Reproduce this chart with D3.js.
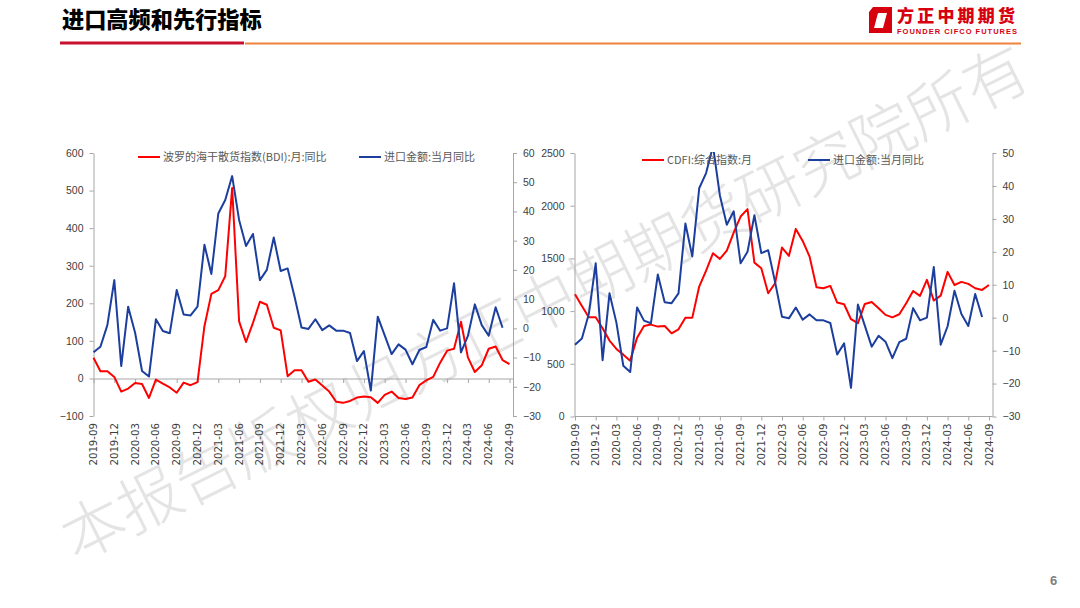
<!DOCTYPE html>
<html><head><meta charset="utf-8">
<script src="https://cdn.jsdelivr.net/npm/d3@7"></script>
<style>body{margin:0;background:#fff}svg{display:block}</style>
</head><body>
<svg id="c" width="1080" height="608"></svg>
<script>
const months = ["2019-09","2019-10","2019-11","2019-12","2020-01","2020-02","2020-03","2020-04","2020-05","2020-06","2020-07","2020-08","2020-09","2020-10","2020-11","2020-12","2021-01","2021-02","2021-03","2021-04","2021-05","2021-06","2021-07","2021-08","2021-09","2021-10","2021-11","2021-12","2022-01","2022-02","2022-03","2022-04","2022-05","2022-06","2022-07","2022-08","2022-09","2022-10","2022-11","2022-12","2023-01","2023-02","2023-03","2023-04","2023-05","2023-06","2023-07","2023-08","2023-09","2023-10","2023-11","2023-12","2024-01","2024-02","2024-03","2024-04","2024-05","2024-06","2024-07","2024-08","2024-09"];
const xTickLabels = ["2019-09","2019-12","2020-03","2020-06","2020-09","2020-12","2021-03","2021-06","2021-09","2021-12","2022-03","2022-06","2022-09","2022-12","2023-03","2023-06","2023-09","2023-12","2024-03","2024-06","2024-09"];
// 波罗的海干散货指数(BDI):月:同比 (%)
const bdiYoY = [55,19,19,4,-35,-27,-12,-15,-52,-3,-14,-24,-38,-11,-18,-10,139,225,235,272,507,152,97,148,204,196,135,128,6,22,22,-9,-3,-19,-35,-62,-65,-60,-51,-48,-50,-65,-44,-35,-52,-55,-51,-18,-5,4,42,74,79,151,56,17,35,79,85,49,38];
// CDFI:综合指数:月
const cdfi = [1160,1049,941,941,837,720,641,587,530,748,859,872,853,859,789,827,938,938,1233,1384,1549,1495,1574,1745,1897,1967,1460,1407,1169,1264,1603,1524,1780,1666,1517,1226,1217,1239,1081,1065,923,885,1068,1087,1027,964,941,970,1074,1191,1144,1296,1100,1147,1372,1248,1277,1258,1217,1201,1248];
// 进口金额:当月同比 (%), ends 2024-08
const importYoY = [-8.2,-6.3,1.1,16.5,-12.9,7.4,-1.5,-14.6,-16.5,3.1,-0.9,-1.7,13.1,4.7,4.4,7.4,28.6,18.6,39.3,43.9,52.1,37.1,28.2,32.3,16.5,20.0,31.1,19.6,20.5,10.8,0.3,-0.2,3.1,-0.6,1.0,-0.8,-0.8,-1.6,-11.2,-7.8,-21.3,4.0,-2.4,-8.8,-5.5,-7.3,-12.3,-7.4,-6.4,2.9,-0.8,0.0,15.4,-8.2,-2.6,8.2,1.1,-2.5,7.2,0.2,null];
const leftTicksA = [600,500,400,300,200,100,0,-100];
const rightTicksA = [60,50,40,30,20,10,0,-10,-20,-30];
const leftTicksB = [2500,2000,1500,1000,500,0];
const rightTicksB = [50,40,30,20,10,0,-10,-20,-30];
const legendA = ["波罗的海干散货指数(BDI):月:同比","进口金额:当月同比"];
const legendB = ["CDFI:综合指数:月","进口金额:当月同比"];

const svg = d3.select("#c");
const RED = "#ff0000", BLUE = "#1c3f9e", AXIS = "#a6a6a6", TXT = "#404040";
const CJK = "'Noto Sans CJK SC','Noto Sans',sans-serif";

// watermark
svg.append("text").attr("transform","translate(547,308) rotate(-26.5)")
  .attr("text-anchor","middle").attr("dominant-baseline","middle")
  .style("font-family",CJK).style("font-weight",300).style("font-size","63px")
  .style("fill","#e4e4e4").text("本报告版权归方正中期期货研究院所有");

// header
svg.append("text").attr("x",62).attr("y",28).style("font-family",CJK).style("font-weight",900)
  .style("font-size","22.2px").style("fill","#000").text("进口高频和先行指标");
svg.append("rect").attr("x",60).attr("y",41.5).attr("width",184).attr("height",3).attr("fill","#c8102e");
svg.append("rect").attr("x",245).attr("y",42.5).attr("width",776).attr("height",2).attr("fill","#f0823c");
// logo
const logo = svg.append("g").attr("transform","translate(869,7)");
logo.append("path").attr("d","M4,0 H23 V26 H0 V5 Z").attr("fill","#d7000f");
logo.append("path").attr("d","M9,6 H18 L14,21 H5 Z").attr("fill","#fff");
svg.append("text").attr("x",897).attr("y",22).attr("textLength",118).style("font-family",CJK).style("font-weight",900)
  .style("font-size","17px").style("fill","#d7000f").text("方正中期期货");
svg.append("text").attr("x",897).attr("y",34).style("font-family","'Liberation Sans Narrow','Liberation Sans',sans-serif").style("font-weight",700)
  .style("font-size","7.5px").style("fill","#d7000f").attr("textLength",120).text("FOUNDER CIFCO FUTURES");
// page number
svg.append("text").attr("x",1050).attr("y",585).style("font-family","'Liberation Sans Narrow',sans-serif").style("font-weight",700)
  .style("font-size","13px").style("fill","#7f7f7f").text("6");

function drawChart(cfg){
  const g = svg.append("g");
  const x = d3.scalePoint().domain(months).range([cfg.x0, cfg.x1]);
  const yL = d3.scaleLinear().domain(cfg.lDomain).range([cfg.yBottom, cfg.yTop]);
  const yR = d3.scaleLinear().domain(cfg.rDomain).range([cfg.yBottom, cfg.yTop]);
  const clipId = "clip"+cfg.id;
  g.append("clipPath").attr("id",clipId).append("rect")
    .attr("x",cfg.axL-2).attr("y",cfg.yTop-1).attr("width",cfg.axR-cfg.axL+4).attr("height",cfg.yBottom-cfg.yTop+2);

  const la = g.append("g").attr("transform",`translate(${cfg.axL},0)`)
    .call(d3.axisLeft(yL).tickValues(cfg.lTicks).tickFormat(d3.format("d")).tickSize(4).tickSizeOuter(0).tickPadding(6));
  const ra = g.append("g").attr("transform",`translate(${cfg.axR},0)`)
    .call(d3.axisRight(yR).tickValues(cfg.rTicks).tickFormat(d3.format("d")).tickSize(4).tickSizeOuter(0).tickPadding(6));
  [la,ra].forEach(a=>{
    a.select(".domain").attr("stroke",AXIS);
    a.selectAll(".tick line").attr("stroke",AXIS);
    a.selectAll("text").style("font-family","'Liberation Sans',Arial,sans-serif").style("font-size","10.5px").style("fill",TXT);
  });
  const xa = g.append("g").attr("transform",`translate(0,${cfg.xAxisY})`)
    .call(d3.axisBottom(x).tickValues(xTickLabels).tickSize(4).tickSizeOuter(0).tickFormat(""));
  xa.select(".domain").attr("d",`M${cfg.axL},0H${cfg.axR}`).attr("stroke",AXIS);
  xa.selectAll(".tick line").attr("stroke",AXIS);
  g.append("g").selectAll("text").data(xTickLabels).join("text")
    .attr("transform",d=>`translate(${x(d)},${cfg.yBottom+7}) rotate(-90)`)
    .attr("text-anchor","end").attr("dy","0.35em")
    .style("font-family","'DejaVu Sans',sans-serif").style("font-size","10.2px").style("fill",TXT)
    .text(d=>d);

  const lineL = d3.line().x((d,i)=>x(months[i])).y(d=>yL(d)).defined(d=>d!=null);
  const lineR = d3.line().x((d,i)=>x(months[i])).y(d=>yR(d)).defined(d=>d!=null);
  const lg = g.append("g").attr("clip-path",`url(#${clipId})`);
  lg.append("path").datum(cfg.leftSeries).attr("d",lineL).attr("fill","none").attr("stroke",RED).attr("stroke-width",2).attr("stroke-linejoin","round");
  lg.append("path").datum(cfg.rightSeries).attr("d",lineR).attr("fill","none").attr("stroke",BLUE).attr("stroke-width",2).attr("stroke-linejoin","round");

  const items = [
    {name:cfg.legend[0], color:RED, x:cfg.leg[0]},
    {name:cfg.legend[1], color:BLUE, x:cfg.leg[1]}
  ];
  items.forEach(it=>{
    g.append("line").attr("x1",it.x).attr("x2",it.x+22).attr("y1",cfg.legY).attr("y2",cfg.legY)
      .attr("stroke",it.color).attr("stroke-width",2);
    g.append("text").attr("x",it.x+25).attr("y",cfg.legY).attr("dy","0.35em")
      .style("font-family",CJK).style("font-size","11px").style("fill","#595959").text(it.name);
  });
}

drawChart({id:"A", x0:93.5, x1:509.5, axL:93.5, axR:513, yTop:153, yBottom:416,
  lDomain:[-100,600], rDomain:[-30,60], lTicks:leftTicksA, rTicks:rightTicksA,
  leftSeries:bdiYoY, rightSeries:importYoY, xAxisY:379, legend:legendA, leg:[138,359], legY:157});
drawChart({id:"B", x0:575, x1:989, axL:574.5, axR:992.5, yTop:153, yBottom:416.5,
  lDomain:[0,2500], rDomain:[-30,50], lTicks:leftTicksB, rTicks:rightTicksB,
  leftSeries:cdfi, rightSeries:importYoY, xAxisY:416.5, legend:legendB, leg:[642,808], legY:160});
</script>
</body></html>
